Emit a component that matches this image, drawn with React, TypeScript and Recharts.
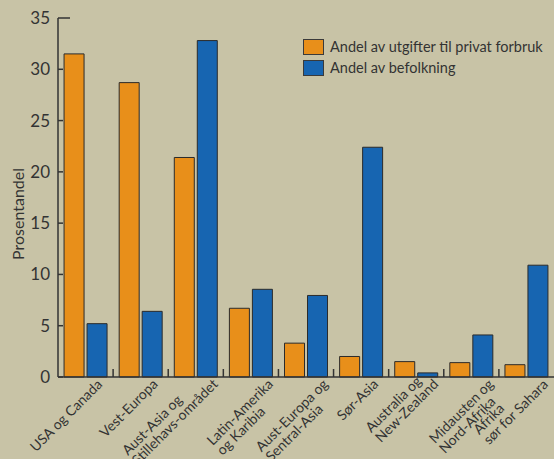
import React from 'react';
import { BarChart, Bar, XAxis, YAxis, Label } from 'recharts';

const regions = [
  'USA og Canada',
  'Vest-Europa',
  'Aust-Asia og\nStillehavs-området',
  'Latin-Amerika\nog Karibia',
  'Aust-Europa og\nSentral-Asia',
  'Sør-Asia',
  'Australia og\nNew-Zealand',
  'Midausten og\nNord-Afrika',
  'Afrika\nsør for Sahara',
];
const forbruk = [31.5, 28.7, 21.4, 6.7, 3.3, 2.0, 1.5, 1.4, 1.2];
const befolkning = [5.2, 6.4, 32.8, 8.55, 7.95, 22.4, 0.4, 4.1, 10.9];
const yTicks = [0, 5, 10, 15, 20, 25, 30, 35];
const seriesNames = ['Andel av utgifter til privat forbruk', 'Andel av befolkning'];

const ORANGE = '#e88f1a';
const BLUE = '#1765b1';
const BG = '#c8c3a6';
const INK = '#333';
const FONT = 'Lato, "Open Sans", sans-serif';
const LABEL_SIZE = 14;

const data = regions.map((r, i) => ({ region: r, forbruk: forbruk[i], befolkning: befolkning[i] }));

let canvas: HTMLCanvasElement | null = null;
const textWidth = (s: string) => {
  if (!canvas) canvas = document.createElement('canvas');
  const ctx = canvas.getContext('2d')!;
  ctx.font = `${LABEL_SIZE}px Lato`;
  return ctx.measureText(s).width;
};

const XTick = (props: any) => {
  const { x, y, payload, index } = props;
  const half = payload.offset || 27.55;
  const lines: string[] = String(payload.value).split('\n');
  const widths = lines.map(textWidth);
  const longest = widths.indexOf(Math.max(...widths));
  const W = widths[longest];
  const dx = lines.length > 1 ? 23 : 18;
  return (
    <g>
      {index < regions.length - 1 && (
        <line x1={x + half} x2={x + half} y1={y} y2={y - 8} stroke={INK} strokeWidth={1.5} />
      )}
      <g transform={`translate(${x + dx},${y + 8}) rotate(-45)`}>
        {lines.map((l, i) => (
          <text key={i} x={-W} y={(i - longest) * 14} textAnchor="start" fill={INK} fontSize={LABEL_SIZE} fontFamily={FONT}>
            {l}
          </text>
        ))}
      </g>
    </g>
  );
};

const YTick = (props: any) => {
  const { x, y, payload } = props;
  const len = payload.value === 35 ? 12 : 5;
  return (
    <g>
      <line x1={x} x2={x + len} y1={y} y2={y} stroke={INK} strokeWidth={1.5} />
      <text x={x - 8} y={y} dy={6} textAnchor="end" fill={INK} fontSize={17} fontFamily={FONT}>
        {payload.value}
      </text>
    </g>
  );
};

const LegendBox = () => (
  <div style={{ position: 'absolute', top: 36, left: 303, fontFamily: FONT, fontSize: 14.5, color: INK }}>
    {seriesNames.map((n, i) => (
      <div key={n} style={{ display: 'flex', alignItems: 'center', height: 21 }}>
        <span
          style={{
            display: 'inline-block',
            width: 19,
            height: 14,
            background: i === 0 ? ORANGE : BLUE,
            border: '1px solid #3a3a3a',
            marginRight: 6,
          }}
        />
        <span>{n}</span>
      </div>
    ))}
  </div>
);

const YLabel = () => (
  <text
    transform="translate(24,214) rotate(-90)"
    textAnchor="middle"
    fill={INK}
    fontSize={16}
    fontFamily={FONT}
  >
    Prosentandel
  </text>
);

export default function App() {
  return (
    <div style={{ position: 'relative', width: 554, height: 459, background: BG, overflow: 'hidden' }}>
      <style>{`body{margin:0}`}</style>
      <BarChart
        width={554}
        height={459}
        data={data}
        margin={{ top: 18, right: 0, bottom: 0, left: 8 }}
        barCategoryGap="11%"
        barGap={3}
      >
        <XAxis
          dataKey="region"
          interval={0}
          height={82}
          tickLine={false}
          tickSize={0}
          tickMargin={0}
          axisLine={{ stroke: INK, strokeWidth: 1.5 }}
          tick={<XTick />}
        />
        <YAxis
          domain={[0, 35]}
          ticks={yTicks}
          width={50}
          tickLine={false}
          tickSize={0}
          tickMargin={0}
          axisLine={{ stroke: INK, strokeWidth: 1.5 }}
          tick={<YTick />}
        >
          <Label content={<YLabel />} />
        </YAxis>
        <Bar dataKey="forbruk" name={seriesNames[0]} fill={ORANGE} stroke="#2b2b2b" strokeWidth={1} isAnimationActive={false} />
        <Bar dataKey="befolkning" name={seriesNames[1]} fill={BLUE} stroke="#2b2b2b" strokeWidth={1} isAnimationActive={false} />
      </BarChart>
      <LegendBox />
    </div>
  );
}
